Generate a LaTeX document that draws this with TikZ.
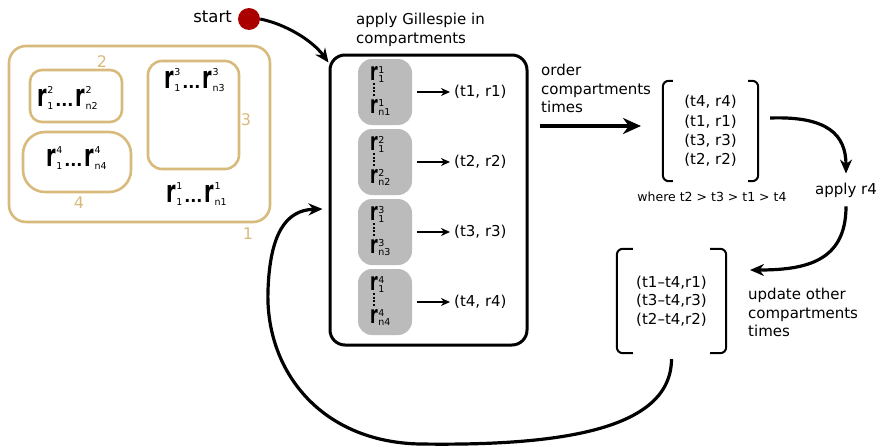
\documentclass[tikz,border=0pt]{standalone}
\usepackage{fontspec}
\setmainfont{DejaVu Sans}
\usepackage{graphicx}
\usetikzlibrary{arrows.meta,calc}
\definecolor{goldc}{RGB}{216,187,124}
\definecolor{grayc}{RGB}{187,187,187}
\definecolor{startred}{RGB}{170,0,0}
\newcommand\rsym[5]{\mbox{\fontsize{#1}{#1}\selectfont\bfseries\scalebox{0.62}[1]{r}}\kern0.6pt\rlap{\raisebox{#2}{\fontsize{9.5}{9.5}\selectfont #4}}\raisebox{#3}{\fontsize{9.5}{9.5}\selectfont #5}}
\newcommand\rg[2]{\rsym{31}{13pt}{-3pt}{#1}{#2}}
\newcommand\rgy[2]{\rsym{25}{7pt}{-2pt}{#1}{#2}}
\newcommand\dotsg{\kern2pt{\fontsize{16}{16}\selectfont\bfseries...}\kern2pt}
\begin{document}
\begin{tikzpicture}[x=1pt,y=-1pt,
  goldbox/.style={draw=goldc, line width=2.6pt, inner sep=0pt},
  goldlbl/.style={text=goldc, font=\fontsize{16}{16}\selectfont, inner sep=0pt},
  lbl/.style={font=\fontsize{15}{18.5}\selectfont, inner sep=0pt, align=left},
  rgrp/.style={inner sep=0pt, anchor=base west},
  graybox/.style={fill=grayc, rounded corners=14pt, minimum width=54pt, minimum height=66pt, inner sep=0pt},
  brk/.style={line width=2pt, rounded corners=6pt},
  thinarrow/.style={line width=1.8pt, -{Stealth[length=9pt,width=8pt]}},
  flowarrow/.style={line width=3.2pt, -{Stealth[length=14pt,width=12pt]}},
  bigarrow/.style={line width=4.5pt, -{Stealth[length=18pt,width=16pt]}},
]
\useasboundingbox (0,0) rectangle (881,447);

% compartments (gold)
\node[goldbox, rounded corners=17pt, minimum width=261pt, minimum height=176pt] (c1) at (139.5,134) {};
\node[goldbox, rounded corners=12pt, minimum width=92pt, minimum height=52pt] (c2) at (76,96) {};
\node[goldbox, rounded corners=14pt, minimum width=91pt, minimum height=108pt] (c3) at (193.5,115) {};
\node[goldbox, rounded corners=22pt, minimum width=108pt, minimum height=60pt] (c4) at (77,162) {};
\node[goldlbl] (l2) at (102,62) {2};
\node[goldlbl] (l3) at (246,120) {3};
\node[goldlbl] (l4) at (79,203) {4};
\node[goldlbl] (l1) at (248,234) {1};
\node[rgrp] (r2) at (37,106) {\rg{2}{1}\dotsg\rg{2}{n2}};
\node[rgrp] (r3) at (164,88) {\rg{3}{1}\dotsg\rg{3}{n3}};
\node[rgrp] (r4) at (46,166) {\rg{4}{1}\dotsg\rg{4}{n4}};
\node[rgrp] (r1) at (166,202) {\rg{1}{1}\dotsg\rg{1}{n1}};

% start
\node[circle, fill=startred, minimum size=22pt, inner sep=0pt] (st) at (249,19) {};
\node[lbl, anchor=base east, font=\fontsize{16.5}{18}\selectfont] (stl) at (232,22) {start};

% Gillespie box
\node[lbl, anchor=north west] (gt) at (356,13) {apply Gillespie in\\compartments};
\node[draw, line width=3pt, rounded corners=15pt, minimum width=197pt, minimum height=290pt, inner sep=0pt] (gil) at (428.5,200) {};
\draw[flowarrow, line width=3pt] (st.east) .. controls (285,24) and (312,40) .. ($(gil.north west)+(0,9)$);

\foreach \i/\y/\t in {1/92/{(t1, r1)},2/162/{(t2, r2)},3/232/{(t3, r3)},4/302/{(t4, r4)}} {
  \node[graybox] (g\i) at (385,\y) {};
  \node[rgrp] (ra\i) at (370,\y-12) {\rgy{\i}{1}};
  \node[rgrp] (rb\i) at (370,\y+21) {\rgy{\i}{n\i}};
  \draw[line width=2.4pt, dash pattern=on 2pt off 1.6pt] (374,\y-9) -- (374,\y+5);
  \node[lbl, anchor=west] (o\i) at (454,\y) {\t};
  \draw[thinarrow] ($(g\i.east)+(5,0)$) -- ($(o\i.west)+(-4,0)$);
}

% order
\node[lbl, anchor=north west] (ord) at (541,64) {order\\compartments\\times};
\coordinate (ordS) at (540,126);
\node[inner sep=0pt, minimum width=95pt, minimum height=100pt, align=center, font=\fontsize{15}{19.3}\selectfont] (m1) at (710.5,131) {(t4, r4)\\(t1, r1)\\(t3, r3)\\(t2, r2)};
\draw[brk] ($(m1.north west)+(10,0)$) -- (m1.north west) -- (m1.south west) -- ($(m1.south west)+(10,0)$);
\draw[brk] ($(m1.north east)+(-10,0)$) -- (m1.north east) -- (m1.south east) -- ($(m1.south east)+(-10,0)$);
\coordinate (ordE) at (641,126);
\draw[bigarrow] (ordS) -- (ordE);
\node[inner sep=0pt, font=\fontsize{12.5}{14}\selectfont] (wh) at (712,197) {where t2 > t3 > t1 > t4};

% apply r4
\node[lbl, inner xsep=2pt, inner ysep=9pt] (ar4) at (846,190) {apply r4};
\draw[flowarrow] ($(m1.east)+(12,-13)$) .. controls (828,116) and (846,135) .. (ar4.north);

% update
\node[inner sep=0pt, minimum width=109pt, minimum height=104pt, align=center, font=\fontsize{15}{18.5}\selectfont] (m2) at (671.5,301) {(t1–t4,r1)\\(t3–t4,r3)\\(t2–t4,r2)};
\draw[brk] ($(m2.north west)+(16,0)$) -- (m2.north west) -- (m2.south west) -- ($(m2.south west)+(16,0)$);
\draw[brk] ($(m2.north east)+(-16,0)$) -- (m2.north east) -- (m2.south east) -- ($(m2.south east)+(-16,0)$);
\coordinate (upE) at (750,270);
\draw[flowarrow] (ar4.south) .. controls (846,262) and (805,270) .. (upE);
\node[lbl, anchor=north west] (upd) at (748,288) {update other\\compartments\\times};

% loop back
\draw[flowarrow] ($(m2.south)+(0,6)$) .. controls (671,430) and (560,446) .. (420,444) .. controls (320,442) and (265,370) .. (268,290) .. controls (270,235) and (285,210) .. ($(gil.west)+(-6,9)$);
\end{tikzpicture}
\end{document}
